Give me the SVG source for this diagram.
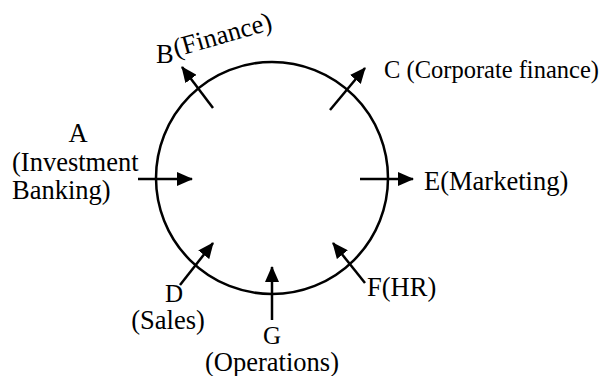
<svg xmlns="http://www.w3.org/2000/svg" width="612" height="376" viewBox="0 0 612 376">
<defs>
<style>
.t{font-family:"Liberation Serif","Times New Roman",serif;font-size:26.5px;fill:#000}
.s{font-size:25px}
.c{fill:none;stroke:#000;stroke-width:2.5}
.a{fill:none;stroke:#000;stroke-width:2.5;marker-end:url(#ah)}
</style>
<marker id="ah" markerUnits="userSpaceOnUse" viewBox="0 0 16 14" refX="15" refY="7" markerWidth="16" markerHeight="14" orient="auto">
<path d="M0,0 L16,7 L0,14 Z" fill="#000"/>
</marker>
</defs>
<rect width="612" height="376" fill="#fff"/>
<g id="circle"><circle class="c" cx="272" cy="178" r="116"/></g>
<g id="connectors">
<line class="a" x1="138" y1="179" x2="192" y2="179"/>
<line class="a" x1="360" y1="179" x2="413" y2="179"/>
<line class="a" x1="213" y1="108" x2="182" y2="67"/>
<line class="a" x1="330" y1="110" x2="365" y2="68"/>
<line class="a" x1="180" y1="285" x2="213" y2="243"/>
<line class="a" x1="272" y1="320" x2="272" y2="267"/>
<line class="a" x1="365" y1="283" x2="333" y2="243"/>
</g>
<g id="A">
<text class="t" x="78" y="142" text-anchor="middle">A</text>
<text class="t" x="12" y="171">(Investment</text>
<text class="t" x="12" y="199">Banking)</text>
</g>
<g id="B">
<text class="t" x="156" y="63">B</text>
<text class="t" transform="translate(176,57) rotate(-16)">(Finance)</text>
</g>
<g id="C"><text class="t" x="384" y="78" style="font-size:24.5px">C (Corporate finance)</text></g>
<g id="E"><text class="t" x="424" y="190">E(Marketing)</text></g>
<g id="D">
<text class="t s" x="174" y="302" text-anchor="middle">D</text>
<text class="t" x="168" y="329" text-anchor="middle">(Sales)</text>
</g>
<g id="G">
<text class="t s" x="272" y="344" text-anchor="middle">G</text>
<text class="t" x="272" y="371" text-anchor="middle">(Operations)</text>
</g>
<g id="F"><text class="t" x="367" y="296">F(HR)</text></g>
</svg>
